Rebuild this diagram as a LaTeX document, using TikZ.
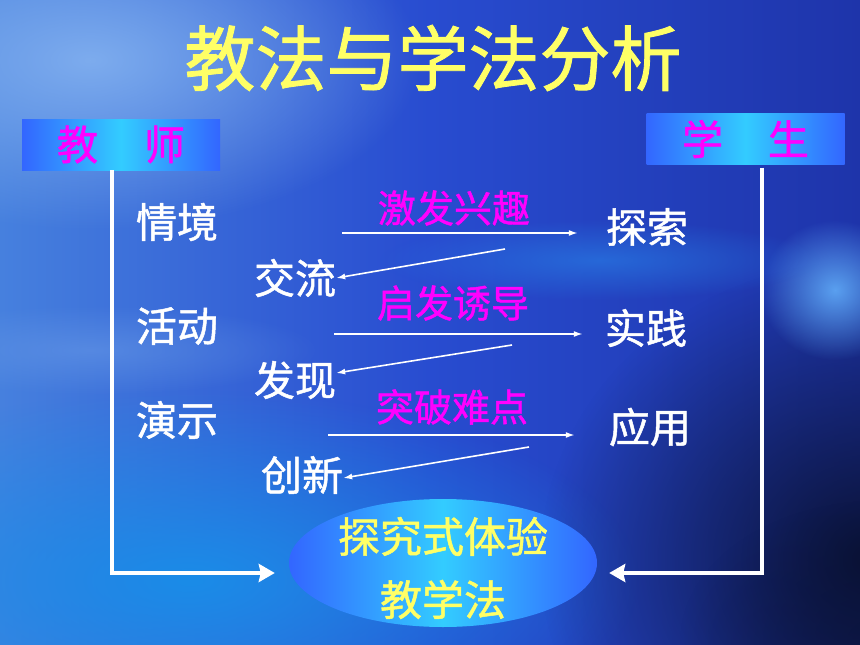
\documentclass[tikz,border=0pt]{standalone}
\usepackage{fontspec}
\setmainfont{Noto Sans CJK SC}[BoldFont=Noto Sans CJK SC,BoldFeatures={FakeBold=1.2}]
\usepackage{tikz}
\usetikzlibrary{arrows.meta,shapes.geometric,fadings,positioning}
\definecolor{titleyellow}{RGB}{255,255,102}
\definecolor{rolemagenta}{RGB}{255,0,255}
\definecolor{boxblue}{RGB}{51,102,255}
\definecolor{boxcyan}{RGB}{51,204,255}
\definecolor{bgleft}{RGB}{70,128,222}
\definecolor{bgmid}{RGB}{40,76,208}
\definecolor{bgright}{RGB}{30,52,170}
\tikzfading[name=glow, inner color=transparent!0, outer color=transparent!100]
\newcommand\cjksize[1]{\fontsize{#1}{#1}\selectfont\bfseries}

\begin{document}
\begin{tikzpicture}
  [x=1pt,y=-1pt,
  every node/.style={inner sep=0pt},
  heading/.style={text=titleyellow,font=\cjksize{71}},
  rolebox/.style={rectangle,left color=boxblue,right color=boxblue,middle color=boxcyan,
    text=rolemagenta,font=\cjksize{41},minimum width=198pt,minimum height=51pt},
  item/.style={text=white,font=\cjksize{41}},
  hint/.style={text=rolemagenta,font=\cjksize{38}},
  method/.style={ellipse,left color=boxblue,right color=boxblue,middle color=boxcyan,
    minimum width=308pt,minimum height=128pt},
  flow/.style={white,line width=1.6pt,-{Latex[length=9pt,width=6pt]}},
  feed/.style={white,line width=4pt,line join=miter,-{Stealth[length=16pt,width=18pt,inset=2pt]}}
  ]
  \useasboundingbox (0,0) rectangle (860,645);
  % background
  \begin{scope}
    \clip (0,0) rectangle (860,645);
    \shade[left color=bgleft,right color=bgright,middle color=bgmid] (0,0) rectangle (860,645);
    \fill[color={rgb,255:red,125;green,172;blue,238},path fading=glow] (90,60) ellipse [x radius=330pt,y radius=170pt];
    \fill[color={rgb,255:red,26;green,140;blue,232},path fading=glow] (190,580) ellipse [x radius=450pt,y radius=190pt];
    \fill[color={rgb,255:red,100;green,150;blue,230},path fading=glow,opacity=.6] (90,350) ellipse [x radius=230pt,y radius=45pt];
    \fill[color={rgb,255:red,10;green,18;blue,52},path fading=glow] (870,560) ellipse [x radius=330pt,y radius=300pt];
    \fill[color={rgb,255:red,10;green,18;blue,52},path fading=glow,opacity=.6] (880,640) ellipse [x radius=200pt,y radius=140pt];
    \fill[color={rgb,255:red,90;green,160;blue,240},path fading=glow] (835,290) ellipse [x radius=75pt,y radius=70pt];
    \fill[color={rgb,255:red,40;green,120;blue,226},path fading=glow,opacity=.7] (600,260) ellipse [x radius=220pt,y radius=40pt];
  \end{scope}

  \node[heading] (title) at (433,58) {教法与学法分析};
  \node[rolebox] (teacher) at (121,144.5) {教\hspace{46pt}师};
  \node[rolebox] (student) at (745.5,139) {学\hspace{45pt}生};

  \node[item] (scene) at (177,222) {情境};
  \node[item] (activity) at (177,326) {活动};
  \node[item] (demo) at (177,420) {演示};
  \node[item] (exchange) at (295,278) {交流};
  \node[item] (discover) at (295,380) {发现};
  \node[item] (innovate) at (302,475) {创新};
  \node[item] (explore) at (647,227) {探索};
  \node[item] (practice) at (646,328) {实践};
  \node[item] (apply) at (650,427) {应用};

  \node[hint] (inspire) at (454,208) {激发兴趣};
  \node[hint] (guide) at (453,303) {启发诱导};
  \node[hint] (breakthrough) at (452,407) {突破难点};

  \node[method] (method) at (443,563) {};
  \node[text=titleyellow,font=\fontsize{42}{63}\selectfont\bfseries,align=center] (methodtext) at (443,568) {探究式体验\\教学法};

  % teacher to student and back
  \coordinate (go1) at (342,233);
  \coordinate (go2) at (334,334);
  \coordinate (go3) at (328,435);
  \draw[flow,shorten >=28pt] (go1) -- (go1 -| explore.west);
  \draw[flow,shorten >=22pt] (go2) -- (go2 -| practice.west);
  \draw[flow,shorten >=34pt] (go3) -- (go3 -| apply.west);
  \coordinate (back1) at (505,249);
  \coordinate (back2) at (512,345);
  \coordinate (back3) at (529,447);
  \foreach \from/\to/\dy in {back1/exchange/0pt, back2/discover/7pt, back3/innovate/-3pt} {
    \draw[flow] (\from) -- ([yshift=\dy]\to.east);
  }

  \draw[feed,shorten >=14pt] ([xshift=-9pt]teacher.south) |- ([yshift=-10pt]method.west);
  \draw[feed,shorten >=12pt] ([xshift=16.5pt,yshift=-3pt]student.south) |- ([yshift=-10pt]method.east);
\end{tikzpicture}
\end{document}
